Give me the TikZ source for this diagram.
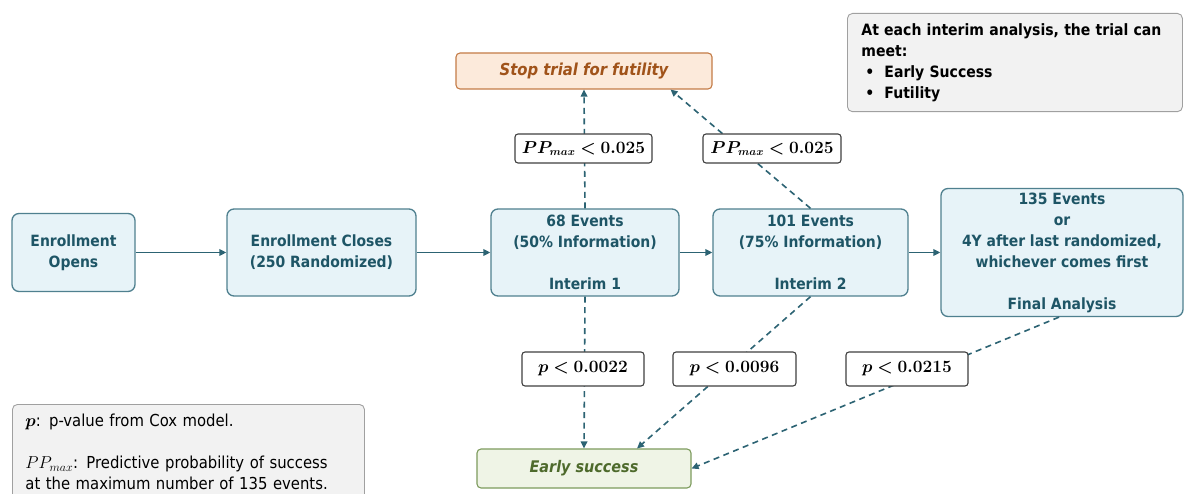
\documentclass[tikz,border=0pt]{standalone}
\usepackage{fontspec}
\setmainfont{DejaVu Sans Condensed}
\usepackage{amsmath,bm}
\usetikzlibrary{arrows.meta}
\definecolor{boxfill}{HTML}{E7F3F8}
\definecolor{boxdraw}{HTML}{4F808F}
\definecolor{boxtext}{HTML}{1E5566}
\definecolor{arrowc}{HTML}{2C6373}
\definecolor{stopfill}{HTML}{FCEADB}
\definecolor{stopdraw}{HTML}{C47C47}
\definecolor{stoptext}{HTML}{A0531A}
\definecolor{earlyfill}{HTML}{EFF4E6}
\definecolor{earlydraw}{HTML}{7D9B5D}
\definecolor{earlytext}{HTML}{4E6A2C}
\definecolor{notefill}{HTML}{F2F2F2}
\definecolor{notedraw}{HTML}{A0A0A0}
\tikzset{
  mainbox/.style={draw=boxdraw, fill=boxfill, line width=1.3pt, rounded corners=7pt,
    align=center, text=boxtext, font=\fontsize{15.5}{21}\selectfont\bfseries, inner sep=0pt},
  stopbox/.style={draw=stopdraw, fill=stopfill, line width=1.1pt, rounded corners=4pt,
    text=stoptext, font=\fontsize{16.5}{21}\selectfont\bfseries\itshape, inner sep=0pt},
  earlybox/.style={draw=earlydraw, fill=earlyfill, line width=1.1pt, rounded corners=4pt,
    text=earlytext, font=\fontsize{16}{21}\selectfont\bfseries\itshape, inner sep=0pt},
  condbox/.style={draw=black!75, fill=white, line width=1.1pt, rounded corners=3pt,
    font=\fontsize{16}{18}\selectfont, inner sep=0pt},
  notebox/.style={draw=notedraw, fill=notefill, line width=0.9pt, rounded corners=5pt,
    align=left, anchor=north west},
  flow/.style={draw=arrowc, line width=1.6pt, -{Triangle[length=7pt,width=6.5pt]}},
  dflow/.style={draw=arrowc, line width=1.6pt, dash pattern=on 6pt off 4.5pt,
    -{Triangle[length=7pt,width=6.5pt]}}
}
\begin{document}
\begin{tikzpicture}[x=1pt,y=-1pt]
\useasboundingbox (0,0) rectangle (1184,494);
\fill[white] (0,0) rectangle (1184,494);

% main process boxes
\node[mainbox, minimum width=123pt, minimum height=78pt] (open) at (73.5,252.5) {Enrollment\\Opens};
\node[mainbox, minimum width=189pt, minimum height=87pt] (close) at (321.5,252.5) {Enrollment Closes\\(250 Randomized)};
\node[mainbox, minimum width=188pt, minimum height=87pt] (int1) at (585,252.5) {68 Events\\(50\% Information)\\[21pt]Interim 1};
\node[mainbox, minimum width=195pt, minimum height=87pt] (int2) at (810.5,252.5) {101 Events\\(75\% Information)\\[21pt]Interim 2};
\node[mainbox, minimum width=242pt, minimum height=128pt] (final) at (1062,252.5) {135 Events\\or\\4Y after last randomized,\\whichever comes first\\[21pt]Final Analysis};

% outcome boxes
\node[stopbox, minimum width=256pt, minimum height=36pt] (stop) at (584,71) {Stop trial for futility};
\node[earlybox, minimum width=214pt, minimum height=39pt] (early) at (584,468.5) {Early success};

% connectors
\draw[flow] (open.east) -- (close.west);
\draw[flow] (close.east) -- (int1.west);
\draw[flow] (int1.east) -- (int2.west);
\draw[flow] (int2.east) -- (final.west |- int2.east);

\draw[dflow] (int1.north) -- (stop.south);
\draw[dflow] (int2.north) -- ([xshift=-42pt]stop.south east);
\draw[dflow] (int1.south) -- (early.north);
\draw[dflow] (int2.south) -- ([xshift=53pt]early.north);
\draw[dflow] ([xshift=-3pt]final.south) -- (early.east);

% condition labels
\node[condbox, minimum width=137pt, minimum height=29pt] (pp1) at (583.5,148.5) {$\bm{PP_{max} < 0.025}$};
\node[condbox, minimum width=138pt, minimum height=29pt] (pp2) at (772,148.5) {$\bm{PP_{max} < 0.025}$};
\node[condbox, minimum width=122pt, minimum height=34pt] (p1) at (583,369) {$\bm{p < 0.0022}$};
\node[condbox, minimum width=123pt, minimum height=34pt] (p2) at (734.5,369) {$\bm{p < 0.0096}$};
\node[condbox, minimum width=122pt, minimum height=34pt] (p3) at (907,369) {$\bm{p < 0.0215}$};

% notes
\node[notebox, text width=307pt, inner xsep=14pt, inner ysep=10pt, font=\fontsize{15.6}{21}\selectfont\bfseries] (note) at (847,13)
 {At each interim analysis, the trial can\\meet:\\\hspace*{4pt}\makebox[19pt][l]{\textbullet}Early Success\\\hspace*{4pt}\makebox[19pt][l]{\textbullet}Futility};
\begin{scope}
\clip (0,0) rectangle (1184,494);
\node[notebox, text width=326pt, inner xsep=13pt, inner ysep=10pt, font=\fontsize{16.5}{21}\selectfont] (legend) at (12,404)
 {$\bm{p}$: p-value from Cox model.\\[21pt]$PP_{max}$: Predictive probability of success\\at the maximum number of 135 events.};
\end{scope}
\end{tikzpicture}
\end{document}
